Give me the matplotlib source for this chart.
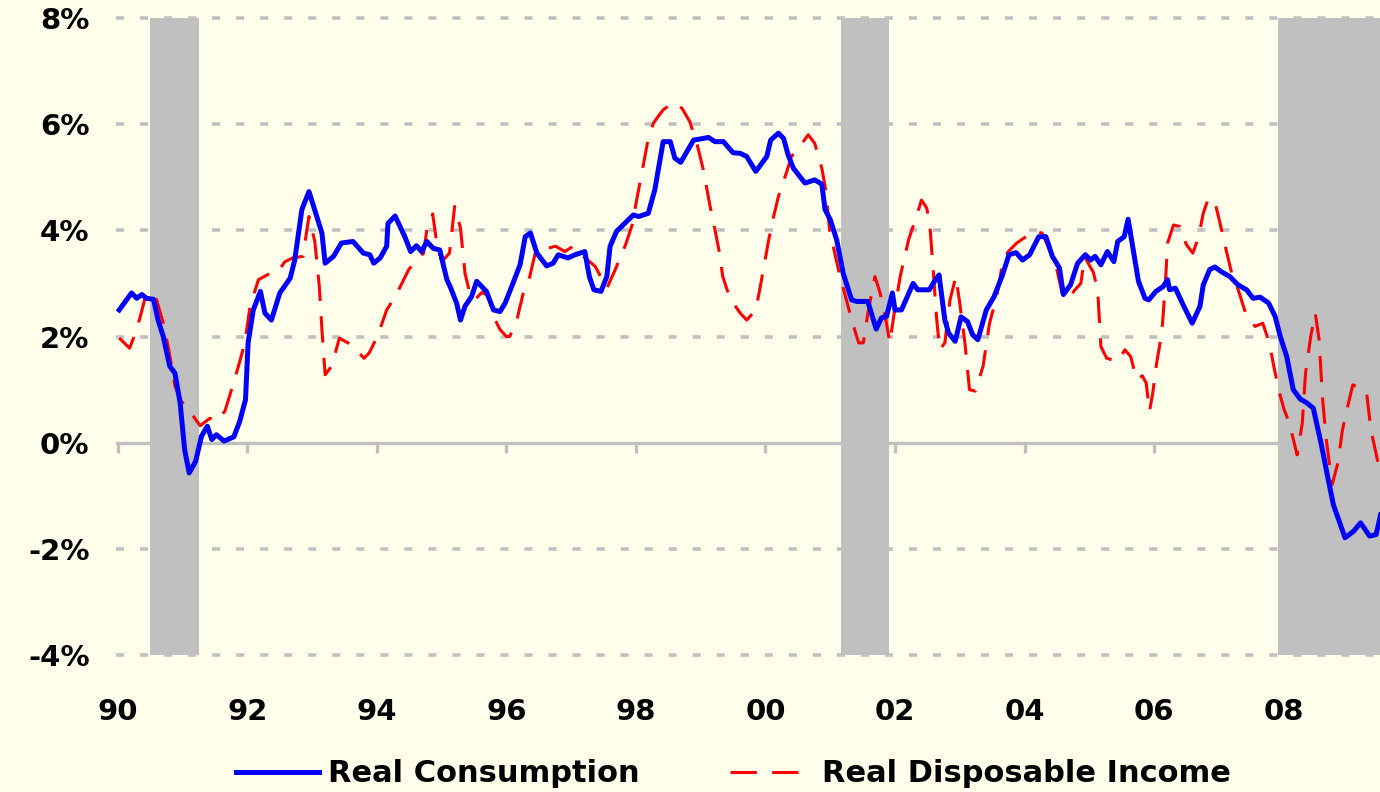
import matplotlib
matplotlib.use("Agg")
import matplotlib.pyplot as plt
import numpy as np

# ---------------- data ----------------
cons_t = [1990.02, 1990.21, 1990.29, 1990.37, 1990.44, 1990.55, 1990.62, 1990.70, 1990.80, 1990.88,
          1990.96, 1991.03, 1991.10, 1991.20, 1991.29, 1991.38, 1991.45, 1991.52, 1991.64, 1991.79,
          1991.88, 1991.97, 1992.01, 1992.09, 1992.20, 1992.27, 1992.37, 1992.50, 1992.66, 1992.73,
          1992.84, 1992.95, 1993.15, 1993.20, 1993.33, 1993.45, 1993.63, 1993.79, 1993.89, 1993.95,
          1994.05, 1994.15, 1994.17, 1994.28, 1994.43, 1994.52, 1994.61, 1994.69, 1994.77, 1994.87,
          1994.97, 1995.08, 1995.13, 1995.23, 1995.29, 1995.36, 1995.46, 1995.54, 1995.69, 1995.80,
          1995.90, 1995.98, 1996.08, 1996.21, 1996.29, 1996.37, 1996.47, 1996.62, 1996.72, 1996.80,
          1996.95, 1997.06, 1997.21, 1997.28, 1997.35, 1997.46, 1997.55, 1997.60, 1997.70, 1997.86,
          1997.96, 1998.04, 1998.19, 1998.29, 1998.42, 1998.53, 1998.60, 1998.69, 1998.89, 1998.99,
          1999.12, 1999.22, 1999.35, 1999.50, 1999.61, 1999.71, 1999.85, 2000.02, 2000.08, 2000.20,
          2000.28, 2000.35, 2000.43, 2000.61, 2000.76, 2000.87, 2000.92, 2001.00, 2001.10, 2001.20,
          2001.33, 2001.41, 2001.58, 2001.71, 2001.79, 2001.87, 2001.96, 2002.00, 2002.10, 2002.28,
          2002.35, 2002.53, 2002.61, 2002.68, 2002.77, 2002.83, 2002.93, 2003.02, 2003.12, 2003.20,
          2003.28, 2003.41, 2003.53, 2003.66, 2003.76, 2003.87, 2003.97, 2004.08, 2004.22, 2004.33,
          2004.43, 2004.54, 2004.60, 2004.71, 2004.82, 2004.94, 2005.02, 2005.09, 2005.18, 2005.28,
          2005.38, 2005.44, 2005.54, 2005.60, 2005.67, 2005.76, 2005.86, 2005.92, 2006.03, 2006.14,
          2006.21, 2006.24, 2006.33, 2006.46, 2006.59, 2006.71, 2006.76, 2006.86, 2006.94, 2007.04,
          2007.17, 2007.30, 2007.43, 2007.53, 2007.64, 2007.77, 2007.87, 2007.95, 2008.05, 2008.15,
          2008.26, 2008.36, 2008.46, 2008.59, 2008.67, 2008.77, 2008.95, 2009.08, 2009.19, 2009.33,
          2009.43, 2009.50]
cons_v = [2.50, 2.82, 2.72, 2.79, 2.72, 2.70, 2.31, 2.00, 1.44, 1.31,
          0.75, -0.13, -0.57, -0.35, 0.12, 0.31, 0.06, 0.15, 0.03, 0.11,
          0.40, 0.81, 1.88, 2.50, 2.85, 2.44, 2.31, 2.82, 3.10, 3.44,
          4.39, 4.73, 3.95, 3.38, 3.51, 3.76, 3.79, 3.57, 3.54, 3.38,
          3.48, 3.70, 4.13, 4.27, 3.88, 3.60, 3.71, 3.60, 3.79, 3.66,
          3.63, 3.07, 2.94, 2.63, 2.31, 2.57, 2.75, 3.04, 2.85, 2.50,
          2.47, 2.63, 2.94, 3.35, 3.88, 3.95, 3.57, 3.33, 3.38, 3.54,
          3.48, 3.54, 3.60, 3.13, 2.88, 2.85, 3.13, 3.70, 3.98, 4.17,
          4.29, 4.26, 4.32, 4.76, 5.67, 5.67, 5.36, 5.28, 5.70, 5.72,
          5.75, 5.67, 5.67, 5.46, 5.45, 5.39, 5.11, 5.39, 5.70, 5.83,
          5.73, 5.42, 5.17, 4.89, 4.95, 4.87, 4.39, 4.20, 3.82, 3.19,
          2.69, 2.66, 2.66, 2.14, 2.35, 2.38, 2.82, 2.50, 2.50, 3.00,
          2.88, 2.88, 3.04, 3.16, 2.31, 2.06, 1.91, 2.37, 2.28, 2.03,
          1.94, 2.50, 2.75, 3.16, 3.54, 3.58, 3.44, 3.54, 3.88, 3.88,
          3.51, 3.29, 2.79, 2.97, 3.38, 3.54, 3.44, 3.51, 3.35, 3.60,
          3.41, 3.79, 3.88, 4.21, 3.70, 3.04, 2.72, 2.69, 2.85, 2.94,
          3.07, 2.88, 2.91, 2.57, 2.25, 2.57, 2.97, 3.26, 3.31, 3.22,
          3.13, 2.97, 2.88, 2.72, 2.74, 2.63, 2.38, 2.00, 1.62, 1.00,
          0.82, 0.75, 0.65, -0.07, -0.57, -1.17, -1.79, -1.67, -1.51, -1.76,
          -1.73, -1.36]

inc_t = [1990.02, 1990.18, 1990.24, 1990.33, 1990.44, 1990.59, 1990.70, 1990.78, 1990.83, 1990.88,
         1990.98, 1991.09, 1991.27, 1991.42, 1991.51, 1991.65, 1991.73, 1991.86, 1991.96, 1992.04,
         1992.17, 1992.35, 1992.45, 1992.58, 1992.70, 1992.86, 1992.91, 1992.95, 1993.04, 1993.11,
         1993.15, 1993.20, 1993.30, 1993.42, 1993.61, 1993.80, 1993.88, 1994.01, 1994.15, 1994.28,
         1994.36, 1994.49, 1994.59, 1994.72, 1994.77, 1994.86, 1994.91, 1995.00, 1995.12, 1995.20,
         1995.29, 1995.36, 1995.44, 1995.51, 1995.62, 1995.72, 1995.80, 1995.90, 1996.00, 1996.05,
         1996.16, 1996.26, 1996.36, 1996.45, 1996.60, 1996.76, 1996.90, 1997.03, 1997.16, 1997.37,
         1997.55, 1997.68, 1997.84, 1997.94, 1998.01, 1998.09, 1998.19, 1998.27, 1998.37, 1998.42,
         1998.58, 1998.71, 1998.83, 1998.94, 1999.04, 1999.14, 1999.22, 1999.29, 1999.34, 1999.45,
         1999.61, 1999.71, 1999.85, 1999.91, 1999.99, 2000.04, 2000.12, 2000.20, 2000.33, 2000.40,
         2000.53, 2000.66, 2000.76, 2000.87, 2000.93, 2000.99, 2001.07, 2001.15, 2001.25, 2001.33,
         2001.44, 2001.51, 2001.59, 2001.69, 2001.77, 2001.85, 2001.92, 2001.98, 2002.08, 2002.21,
         2002.33, 2002.41, 2002.49, 2002.54, 2002.59, 2002.64, 2002.69, 2002.77, 2002.85, 2002.94,
         2003.00, 2003.08, 2003.15, 2003.24, 2003.36, 2003.46, 2003.57, 2003.67, 2003.75, 2003.88,
         2004.14, 2004.27, 2004.39, 2004.50, 2004.58, 2004.66, 2004.78, 2004.87, 2004.93, 2005.01,
         2005.06, 2005.13, 2005.16, 2005.18, 2005.27, 2005.44, 2005.55, 2005.64, 2005.73, 2005.82,
         2005.88, 2005.93, 2005.98, 2006.04, 2006.12, 2006.17, 2006.21, 2006.30, 2006.40, 2006.50,
         2006.60, 2006.69, 2006.76, 2006.84, 2006.94, 2007.02, 2007.10, 2007.20, 2007.30, 2007.43,
         2007.56, 2007.68, 2007.78, 2007.85, 2007.93, 2008.01, 2008.09, 2008.14, 2008.21, 2008.29,
         2008.34, 2008.42, 2008.49, 2008.55, 2008.60, 2008.66, 2008.75, 2008.84, 2008.91, 2008.99,
         2009.07, 2009.28, 2009.35, 2009.46, 2009.50]
inc_v = [1.97, 1.78, 1.97, 2.31, 2.82, 2.72, 2.25, 1.78, 1.44, 1.06,
         0.78, 0.62, 0.32, 0.46, 0.40, 0.59, 0.90, 1.44, 1.88, 2.57,
         3.07, 3.19, 3.19, 3.41, 3.48, 3.51, 3.95, 4.26, 3.79, 2.94,
         2.13, 1.28, 1.44, 1.97, 1.84, 1.59, 1.69, 2.01, 2.50, 2.75,
         2.94, 3.26, 3.41, 3.57, 4.01, 4.31, 3.88, 3.41, 3.57, 4.45,
         4.04, 3.19, 2.78, 2.69, 2.83, 2.77, 2.38, 2.13, 2.00, 2.00,
         2.31, 2.82, 3.13, 3.60, 3.65, 3.70, 3.60, 3.70, 3.54, 3.32,
         2.91, 3.26, 3.73, 4.10, 4.57, 5.08, 5.73, 6.02, 6.19, 6.27,
         6.41, 6.30, 6.05, 5.64, 5.14, 4.48, 4.01, 3.57, 3.13, 2.72,
         2.44, 2.31, 2.50, 2.88, 3.41, 3.76, 4.23, 4.64, 5.11, 5.39,
         5.58, 5.80, 5.64, 5.17, 4.76, 4.01, 3.57, 3.13, 2.69, 2.31,
         1.88, 1.88, 2.50, 3.13, 2.82, 2.38, 1.88, 2.38, 3.13, 3.82,
         4.26, 4.57, 4.42, 4.07, 3.26, 2.38, 1.75, 1.88, 2.69, 3.13,
         2.63, 1.88, 1.00, 0.97, 1.44, 2.25, 2.75, 3.44, 3.60, 3.76,
         3.98, 3.95, 3.63, 3.26, 2.82, 2.69, 2.88, 3.00, 3.51, 3.32,
         3.22, 2.88, 2.25, 1.81, 1.59, 1.53, 1.75, 1.62, 1.19, 1.26,
         1.12, 0.59, 0.93, 1.50, 2.06, 2.88, 3.76, 4.10, 4.07, 3.73,
         3.57, 3.88, 4.32, 4.60, 4.54, 4.13, 3.70, 3.19, 2.88, 2.38,
         2.19, 2.25, 1.88, 1.44, 0.97, 0.62, 0.37, 0.12, -0.23, 0.37,
         1.31, 2.00, 2.44, 1.94, 0.87, 0.06, -0.79, -0.38, 0.24, 0.68,
         1.09, 0.97, 0.24, -0.38, -0.55]

recessions = [(1990.50, 1991.25), (2001.17, 2001.90), (2007.92, 2009.60)]
year_ticks = [1990, 1992, 1994, 1996, 1998, 2000, 2002, 2004, 2006, 2008]
year_labels = ["90", "92", "94", "96", "98", "00", "02", "04", "06", "08"]
y_ticks = [-4, -2, 0, 2, 4, 6, 8]
y_labels = ["-4%", "-2%", "0%", "2%", "4%", "6%", "8%"]

# ---------------- style ----------------
BG = "#FFFFEC"
GRID = "#C0C0C0"
plt.rcParams["font.family"] = ["DejaVu Sans"]
plt.rcParams["lines.scale_dashes"] = False

W, H = 1380, 792
fig = plt.figure(figsize=(W / 100, H / 100), dpi=100, facecolor=BG)
ylo, yhi = -4.05, 8.05
ax_left, ax_right = 116 / W, 1.0
ax_bot = (H - 657.7) / H
ax_top = (H - 15.3) / H
ax = fig.add_axes([ax_left, ax_bot, ax_right - ax_left, ax_top - ax_bot])
ax.set_facecolor(BG)
ax.set_xlim(1989.97, 2009.49)
ax.set_ylim(ylo, yhi)
for s in ax.spines.values():
    s.set_visible(False)

# grid lines (dashed), zero line solid
for yv in y_ticks:
    if yv == 0:
        ax.axhline(0, color=GRID, lw=2.4, zorder=1)
    else:
        ax.axhline(yv, color=GRID, lw=2.6, zorder=1, dashes=(5.8, 11.5))
# tick marks at zero line
ax.vlines(year_ticks, -0.19, 0, color=GRID, lw=2.4, zorder=1)

# recession shading
for a, b in recessions:
    ax.fill_between([a, b], -4, 8, color="#C0C0C0", lw=0, zorder=2)

# series
l1, = ax.plot(cons_t, cons_v, color="#0000FF", lw=3.6, zorder=4,
              solid_joinstyle="round", label="Real Consumption")
l2, = ax.plot(inc_t, inc_v, color="#FF0000", lw=2.2, zorder=3,
              dashes=(19, 11), label="Real Disposable Income")

ax.set_xticks(year_ticks)
ax.set_xticklabels(year_labels, fontsize=21, fontweight="bold")
ax.set_yticks(y_ticks)
ax.set_yticklabels(y_labels, fontsize=21, fontweight="bold")
ax.tick_params(axis="both", length=0)
ax.tick_params(axis="x", pad=29)
ax.tick_params(axis="y", pad=19)

leg = fig.legend(handles=[l1, l2], loc="center", bbox_to_anchor=(0.5315, (H - 774) / H),
                 ncol=2, frameon=False,
                 prop={"weight": "bold", "size": 22},
                 handlelength=2.7, handletextpad=0.3, columnspacing=2.95)

fig.savefig("out.png", dpi=100, facecolor=BG)
